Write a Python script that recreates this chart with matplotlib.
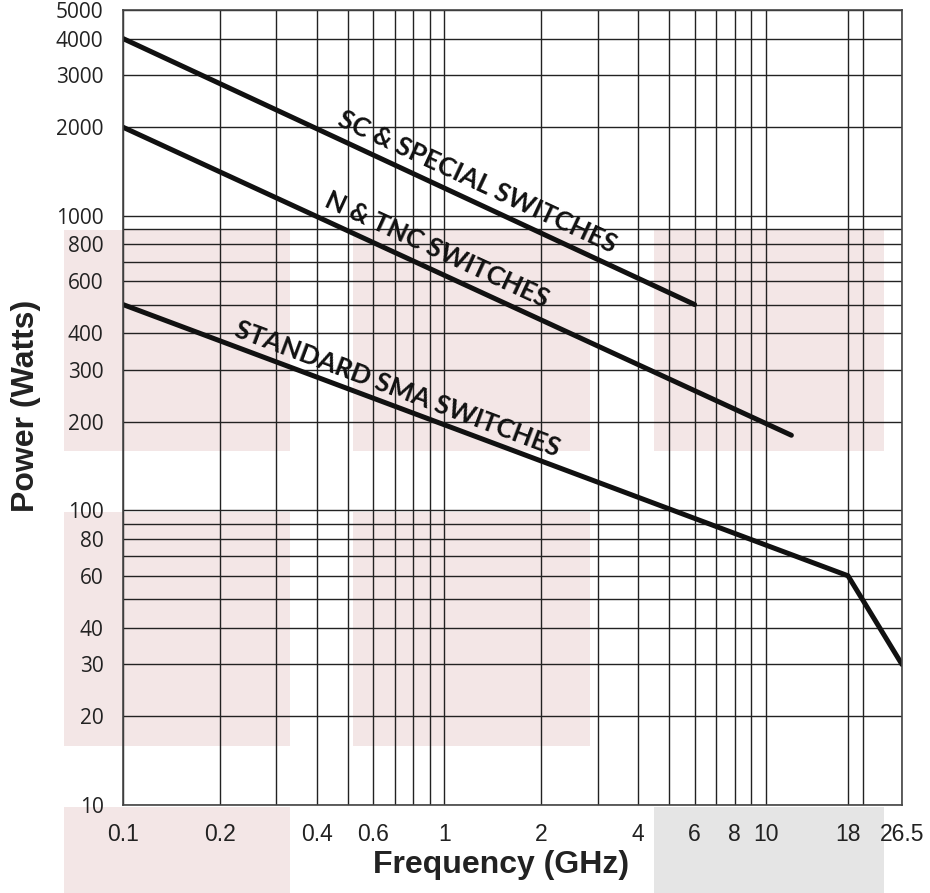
import numpy as np
import matplotlib
matplotlib.use('Agg')
import matplotlib.pyplot as plt
from matplotlib.patches import Rectangle
from matplotlib.ticker import FixedLocator, FixedFormatter, NullFormatter

# Data
sc_freq = [0.1, 6]
sc_power = [4000, 500]
n_freq = [0.1, 12]
n_power = [2000, 180]
sma_freq = [0.1, 18, 26.5]
sma_power = [500, 60, 30]

x_ticks = [0.1, 0.2, 0.4, 0.6, 1, 2, 4, 6, 8, 10, 18, 26.5]
x_tick_labels = ['0.1', '0.2', '0.4', '0.6', '1', '2', '4', '6', '8', '10', '18', '26.5']
x_grid_extra = [0.3, 0.5, 0.7, 0.8, 0.9, 3, 5, 7, 9, 20]
y_ticks = [10, 20, 30, 40, 60, 80, 100, 200, 300, 400, 600, 800, 1000, 2000, 3000, 4000, 5000]
y_tick_labels = [str(v) for v in y_ticks]
y_grid_extra = [50, 70, 90, 500, 700, 900]

W, H = 930, 893
fig = plt.figure(figsize=(W / 100, H / 100), dpi=100)

# background blocks (pixel boxes: left, top, right, bottom)
blocks = [
    (64, 230, 290, 451, '#f3e6e6'),
    (353, 230, 590, 451, '#f3e6e6'),
    (654, 230, 884, 451, '#f3e6e6'),
    (64, 512, 290, 746, '#f3e6e6'),
    (353, 512, 590, 746, '#f3e6e6'),
    (64, 807, 290, 893, '#f3e6e6'),
    (654, 807, 884, 893, '#e5e5e5'),
]
for x0, y0, x1, y1, c in blocks:
    fig.add_artist(Rectangle((x0 / W, 1 - y1 / H), (x1 - x0) / W, (y1 - y0) / H,
                             transform=fig.transFigure, facecolor=c, edgecolor='none', zorder=-10))

ax = fig.add_axes([123 / W, 1 - 805 / H, (902 - 123) / W, (805 - 10) / H])
ax.patch.set_facecolor('none')
ax.set_xscale('log')
ax.set_yscale('log')
ax.set_xlim(0.1, 26.5)
ax.set_ylim(10, 5000)

ax.xaxis.set_major_locator(FixedLocator(x_ticks))
ax.xaxis.set_major_formatter(FixedFormatter(x_tick_labels))
ax.xaxis.set_minor_locator(FixedLocator(x_grid_extra))
ax.xaxis.set_minor_formatter(NullFormatter())
ax.yaxis.set_major_locator(FixedLocator(y_ticks))
ax.yaxis.set_major_formatter(FixedFormatter(y_tick_labels))
ax.yaxis.set_minor_locator(FixedLocator(y_grid_extra))
ax.yaxis.set_minor_formatter(NullFormatter())

ax.grid(True, which='both', color='#222222', linewidth=1.0)
ax.set_axisbelow(True)
ax.tick_params(which='both', length=0)
ax.tick_params(axis='x', pad=13, labelsize=16.5, labelcolor='#222222')
ax.tick_params(axis='y', pad=14, labelsize=15, labelcolor='#222222')
for lab in ax.get_xticklabels():
    lab.set_family(['Liberation Sans Narrow', 'Liberation Sans'])
for lab in ax.get_yticklabels():
    lab.set_family(['Open Sans', 'DejaVu Sans'])
for sp in ax.spines.values():
    sp.set_color('#444444')
    sp.set_linewidth(1.2)

line_kw = dict(color='#111111', linewidth=3.6, solid_capstyle='round', solid_joinstyle='miter')
ax.plot(sc_freq, sc_power, **line_kw)
ax.plot(n_freq, n_power, **line_kw)
ax.plot(sma_freq, sma_power, **line_kw)


def angle_of(xs, ys):
    p0 = ax.transData.transform((xs[0], ys[0]))
    p1 = ax.transData.transform((xs[1], ys[1]))
    return np.degrees(np.arctan2(p1[1] - p0[1], p1[0] - p0[0]))


label_kw = dict(family=['Lato', 'DejaVu Sans'], fontweight='bold', fontsize=18.8,
                color='#111111', ha='center', va='center')
ax.text(1.266, 1304, 'SC & SPECIAL SWITCHES', rotation=angle_of(sc_freq, sc_power), **label_kw)
ax.text(0.944, 767, 'N & TNC SWITCHES', rotation=angle_of(n_freq, n_power), **label_kw)
ax.text(0.715, 259, 'STANDARD SMA SWITCHES', rotation=angle_of(sma_freq, sma_power), **label_kw)

fig.text(501 / W, 1 - 873 / H, 'Frequency (GHz)', family=['Liberation Sans', 'DejaVu Sans'],
         fontweight='bold', fontsize=23, color='#222222', ha='center', va='baseline')
fig.text(26 / W, 1 - 406 / H, 'Power (Watts)', family=['Liberation Sans', 'DejaVu Sans'],
         fontweight='bold', fontsize=23, color='#222222', ha='center', va='center', rotation=90)

fig.savefig('out.png', dpi=100)
